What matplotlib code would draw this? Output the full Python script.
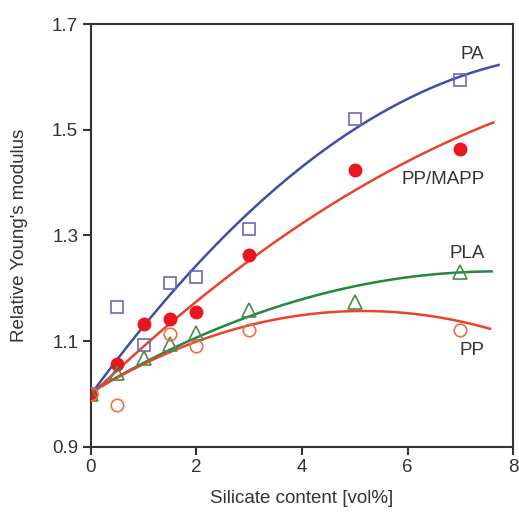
import matplotlib
matplotlib.use('Agg')
import matplotlib.pyplot as plt
import numpy as np

plt.rcParams['font.family'] = ['Liberation Sans', 'DejaVu Sans']

# measured points (silicate content in vol%)
x_pa = [0, 0.5, 1, 1.5, 2, 3, 5, 7]
y_pa = [1.0, 1.164, 1.092, 1.209, 1.222, 1.312, 1.52, 1.594]
x_mapp = [0, 0.5, 1, 1.5, 2, 3, 5, 7]
y_mapp = [1.0, 1.056, 1.132, 1.141, 1.155, 1.263, 1.424, 1.463]
x_pla = [0, 0.5, 1, 1.5, 2, 3, 5, 7]
y_pla = [1.0, 1.039, 1.067, 1.094, 1.115, 1.159, 1.174, 1.231]
x_pp = [0, 0.5, 1.5, 2, 3, 7]
y_pp = [1.0, 0.979, 1.113, 1.091, 1.121, 1.121]

# points
cx_pa = [0, 1.03, 2.07, 4.47, 5, 7, 7.72]
cy_pa = [1.0, 1.128, 1.253, 1.462, 1.506, 1.598, 1.624]
cx_mapp = [0, 2.07, 2.35, 3.02, 5.1, 7.62]
cy_mapp = [1.0, 1.174, 1.200, 1.258, 1.395, 1.512]
cx_pla = [0, 1.03, 2.07, 2.35, 5.1, 7.59]
cy_pla = [1.0, 1.064, 1.111, 1.121, 1.203, 1.233]
cx_pp = [0, 1.03, 2.07, 3.02, 5.0, 7.56]
cy_pp = [1.0, 1.061, 1.102, 1.130, 1.155, 1.124]

fig = plt.figure(figsize=(5.19, 5.12), dpi=100)
ax = fig.add_axes([0.1748, 0.1275, 0.8142, 0.8255])


def trend(cx, cy, color):
    # quadratic fit of the trend curve
    p = np.polyfit(cx, cy, 2)
    xx = np.linspace(0, max(cx), 200)
    ax.plot(xx, np.polyval(p, xx), color=color, lw=1.8, zorder=2)


trend(cx_pa, cy_pa, '#3f4ea6')
trend(cx_mapp, cy_mapp, '#e8432c')
trend(cx_pla, cy_pla, '#23883a')
trend(cx_pp, cy_pp, '#e8432c')

ax.plot(x_pa, y_pa, 's', ms=8, mfc='none', mec='#6a6ab8', mew=1.2, zorder=3)
ax.plot(x_mapp, y_mapp, 'o', ms=9, color='#e8171f', zorder=3)
ax.plot(x_pla, y_pla, '^', ms=10, mfc='none', mec='#4c8a4c', mew=1.2, zorder=3)
ax.plot(x_pp, y_pp, 'o', ms=9, mfc='none', mec='#ef6d4a', mew=1.2, zorder=3)

ax.text(7.22, 1.643, 'PA', ha='center', va='center', fontsize=13.5, color='#333333')
ax.text(6.67, 1.405, 'PP/MAPP', ha='center', va='center', fontsize=13.5, color='#333333')
ax.text(7.12, 1.266, 'PLA', ha='center', va='center', fontsize=13.5, color='#333333')
ax.text(7.22, 1.083, 'PP', ha='center', va='center', fontsize=13.5, color='#333333')

ax.set_xlim(0, 8)
ax.set_ylim(0.9, 1.7)
ax.set_xticks([0, 2, 4, 6, 8])
ax.set_yticks([0.9, 1.1, 1.3, 1.5, 1.7])
ax.set_yticklabels(['0.9', '1.1', '1.3', '1.5', '1.7'])
ax.tick_params(direction='out', length=6, width=1.5, labelsize=13.5,
               colors='#333333', pad=3)
for s in ax.spines.values():
    s.set_linewidth(1.5)
    s.set_color('#333333')

ax.set_xlabel('Silicate content [vol%]', fontsize=13.5, color='#333333', labelpad=10)
ax.set_ylabel("Relative Young's modulus", fontsize=13.5, color='#333333', labelpad=17)

fig.savefig('out.png', dpi=100)
